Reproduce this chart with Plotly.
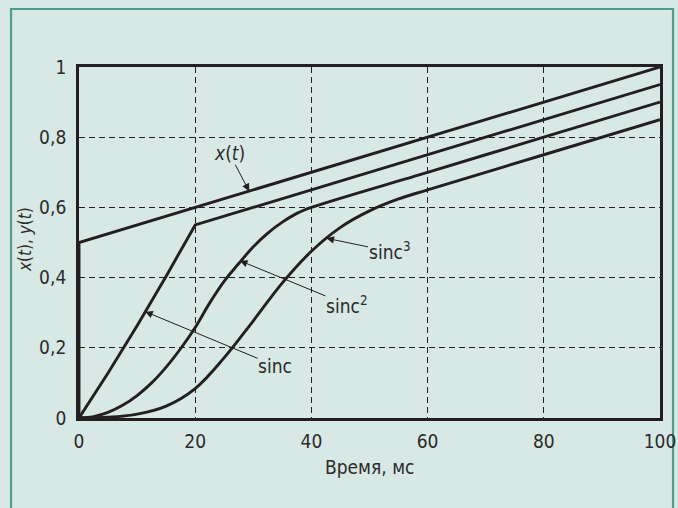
import plotly.graph_objects as go

# ---- data ----
t_x = [0, 0, 100]
v_x = [0, 0.5, 1.0]

t_sinc = [0, 5, 10, 15, 20, 60, 100]
v_sinc = [0, 0.128, 0.263, 0.404, 0.55, 0.75, 0.95]

t_sinc2 = [0, 2.5, 5, 7.5, 10, 12.5, 15, 17.5, 20, 22.5, 25, 27.5, 30, 32.5, 35, 37.5, 40, 60, 80, 100]
v_sinc2 = [0, 0.004, 0.016, 0.036, 0.064, 0.100, 0.145, 0.198, 0.258, 0.328, 0.39, 0.44, 0.488, 0.527, 0.558, 0.583, 0.6, 0.7, 0.8, 0.9]

t_sinc3 = [0, 5, 10, 15, 20, 25, 30, 35, 40, 45, 50, 55, 60, 80, 100]
v_sinc3 = [0, 0.002, 0.011, 0.034, 0.084, 0.172, 0.277, 0.385, 0.475, 0.543, 0.59, 0.624, 0.65, 0.75, 0.85]

x_ticks = [0, 20, 40, 60, 80, 100]
x_ticklabels = ["0", "20", "40", "60", "80", "100"]
y_ticks = [0, 0.2, 0.4, 0.6, 0.8, 1.0]
y_ticklabels = ["0", "0,2", "0,4", "0,6", "0,8", "1"]

FONT = "Liberation Sans Narrow, Arial Narrow, DejaVu Sans Condensed, sans-serif"
INK = "#231f20"
TXT = "#2b2b2b"
BG = "#d8e8e4"
BORDER = "#4a9e8c"

fig = go.Figure()
for tt, vv, nm in [(t_x, v_x, "x"), (t_sinc, v_sinc, "sinc"),
                   (t_sinc2, v_sinc2, "sinc2"), (t_sinc3, v_sinc3, "sinc3")]:
    shape = "linear" if nm in ("x", "sinc") else "spline"
    fig.add_trace(go.Scatter(x=tt, y=vv, mode="lines", name=nm,
                             line=dict(color=INK, width=2.9, shape=shape, smoothing=1.0),
                             hoverinfo="skip", showlegend=False))

axis_common = dict(showline=True, mirror=True, linecolor=INK, linewidth=2.8,
                   showgrid=True, gridcolor=INK, gridwidth=1.1, griddash="6px,4px",
                   zeroline=False, ticks="outside", tickcolor="rgba(0,0,0,0)",
                   ticklabeloverflow="allow", automargin=False,
                   tickfont=dict(family=FONT, size=19, color=TXT))

fig.update_xaxes(range=[0, 100], tickvals=x_ticks, ticktext=x_ticklabels,
                 ticklen=4, **axis_common)
fig.update_yaxes(range=[0, 1], tickvals=y_ticks, ticktext=y_ticklabels,
                 ticklen=6, **axis_common)

ann_font = dict(family=FONT, size=19, color=TXT)
arrow = dict(showarrow=True, arrowhead=2, arrowsize=1.5, arrowwidth=1,
             arrowcolor=INK, axref="pixel", ayref="pixel", borderpad=0,
             font=ann_font, xanchor="center", yanchor="middle")
annotations = [
    # axis titles
    dict(x=-0.093, y=0.51, xref="paper", yref="paper",
         text="<i>x</i>(<i>t</i>), <i>y</i>(<i>t</i>)",
         textangle=-90, showarrow=False, font=dict(family=FONT, size=17, color=TXT),
         xanchor="center", yanchor="middle"),
    dict(x=0.5, y=-0.14, xref="paper", yref="paper", text="Время, мс",
         showarrow=False, font=ann_font, xanchor="center", yanchor="middle"),
    # labels with arrows (head on the curve, label offset in pixels)
    dict(x=29.3, y=0.646, ax=-20, ay=-38, text="<i>x</i>(<i>t</i>)", **arrow),
    dict(x=42.6, y=0.512, ax=63, ay=13, text="sinc<sup>3</sup>", **arrow),
    dict(x=27.7, y=0.448, ax=107, ay=44, text="sinc<sup>2</sup>", **arrow),
    dict(x=11.4, y=0.303, ax=130, ay=54, text="sinc", **arrow),
]

fig.update_layout(
    width=678, height=508,
    margin=dict(l=79, r=18, t=67, b=90),
    paper_bgcolor=BG, plot_bgcolor=BG,
    annotations=annotations,
    shapes=[dict(type="rect", xref="paper", yref="paper",
                 x0=-0.1170, x1=1.0224, y0=-0.30, y1=1.1652,
                 line=dict(color=BORDER, width=2.2), fillcolor="rgba(0,0,0,0)",
                 layer="below")],
)

fig.write_html("out.html")
